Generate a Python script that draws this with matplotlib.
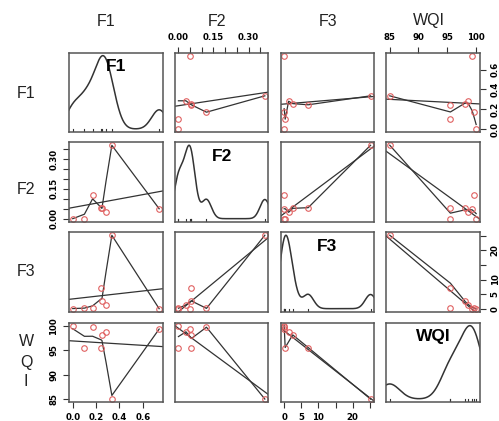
import numpy as np
import matplotlib.pyplot as plt

# samples
names = ["F1", "F2", "F3", "WQI"]
F1 = [0.00, 0.10, 0.17, 0.245, 0.25, 0.285, 0.335, 0.74]
F2 = [0.00, 0.00, 0.12, 0.055, 0.052, 0.032, 0.37, 0.05]
F3 = [0.0, 0.3, 0.1, 7.0, 2.5, 1.3, 25.2, 0.0]
WQI = [100.1, 95.6, 99.8, 95.6, 98.2, 98.7, 85.0, 99.4]
data = {"F1": F1, "F2": F2, "F3": F3, "WQI": WQI}

tick_pos = {
    "F1": [0.0, 0.2, 0.4, 0.6],
    "F2": [0.00, 0.05, 0.10, 0.15, 0.20, 0.25, 0.30, 0.35],
    "F3": [0, 5, 10, 15, 20, 25],
    "WQI": [85, 90, 95, 100],
}
tick_lab = {
    "F1": ["0.0", "0.2", "0.4", "0.6"],
    "F2": ["0.00", "", "", "0.15", "", "", "0.30", ""],
    "F3": ["0", "5", "10", "", "20", ""],
    "WQI": ["85", "90", "95", "100"],
}


def lowess(x, y, f=2 / 3, nsteps=3):
    # port of R's clowess
    o = np.argsort(x, kind="stable")
    x = np.asarray(x, float)[o]
    y = np.asarray(y, float)[o]
    n = len(x)
    ns = max(2, min(n, int(f * n + 1e-7)))
    rng = x[-1] - x[0]
    delta = 0.01 * rng
    rw = np.ones(n)
    ys = np.zeros(n)

    def lowest(xs, nleft, nright, userw):
        h = max(xs - x[nleft], x[nright] - xs)
        h9, h1 = 0.999 * h, 0.001 * h
        w = np.zeros(n)
        a = 0.0
        j = nleft
        while j < n:
            r = abs(x[j] - xs)
            if r <= h9:
                w[j] = 1.0 if r <= h1 else (1 - (r / h) ** 3) ** 3
                if userw:
                    w[j] *= rw[j]
                a += w[j]
            elif x[j] > xs:
                break
            j += 1
        nrt = j - 1
        if a <= 0:
            return None
        sl = slice(nleft, nrt + 1)
        w[sl] /= a
        if h > 0:
            a = np.sum(w[sl] * x[sl])
            b = xs - a
            c = np.sum(w[sl] * (x[sl] - a) ** 2)
            if np.sqrt(c) > 0.001 * rng:
                b /= c
                w[sl] *= b * (x[sl] - a) + 1
        return np.sum(w[sl] * y[sl])

    it = 1
    while it <= nsteps + 1:
        nleft, nright, last, i = 0, ns - 1, -1, 0
        while True:
            if nright < n - 1:
                d1 = x[i] - x[nleft]
                d2 = x[nright + 1] - x[i]
                if d1 > d2:
                    nleft += 1
                    nright += 1
                    continue
            v = lowest(x[i], nleft, nright, it > 1)
            ys[i] = y[i] if v is None else v
            if last < i - 1:
                den = x[i] - x[last]
                for j in range(last + 1, i):
                    al = (x[j] - x[last]) / den
                    ys[j] = al * ys[i] + (1 - al) * ys[last]
            last = i
            cut = x[last] + delta
            i = last + 1
            while i < n:
                if x[i] > cut:
                    break
                if x[i] == x[last]:
                    ys[i] = ys[last]
                    last = i
                i += 1
            i = max(last + 1, i - 1)
            if last >= n - 1:
                break
        res = y - ys
        sc = np.mean(np.abs(res))
        if it > nsteps:
            break
        cmad = 6 * np.median(np.abs(res))
        if cmad < 1e-7 * sc:
            break
        r = np.abs(res)
        rw = np.where(r <= 0.001 * cmad, 1.0,
                      np.where(r <= 0.999 * cmad, (1 - (r / cmad) ** 2) ** 2, 0.0))
        it += 1
    return x, ys


def density(v):
    v = np.asarray(v, float)
    n = len(v)
    sd = v.std(ddof=1)
    q75, q25 = np.percentile(v, [75, 25])
    lo = min(sd, (q75 - q25) / 1.34) or sd
    bw = 0.9 * lo * n ** -0.2
    g = np.linspace(v.min() - 3 * bw, v.max() + 3 * bw, 512)
    d = np.exp(-0.5 * ((g[:, None] - v[None, :]) / bw) ** 2).sum(1)
    return g, d / (n * bw * np.sqrt(2 * np.pi))


def lims(v):
    r = max(v) - min(v)
    return min(v) - 0.04 * r, max(v) + 0.04 * r


W, H = 499, 421
fig = plt.figure(figsize=(W / 100, H / 100), dpi=100)
lefts = [69.3, 175.0, 280.7, 386.3]
tops = [52.7, 142.3, 232.3, 322.7]
pw, ph = 93.3, 79.3
ink = "#333333"

for i, rv in enumerate(names):
    for j, cv in enumerate(names):
        ax = fig.add_axes([lefts[j] / W, 1 - (tops[i] + ph) / H, pw / W, ph / H])
        for s in ax.spines.values():
            s.set_color("#555555")
            s.set_linewidth(1.1)
        ax.set_xlim(lims(data[cv]))
        ax.tick_params(length=4, width=0.8, color=ink, pad=4, labelsize=6.2)
        x = np.array(data[cv])
        if i == j:
            g, d = density(x)
            m = d.max()
            ax.set_ylim(-0.04 * m, 1.04 * m)
            ax.plot(g, d, color=ink, lw=1.1)
            for xv in x:
                ax.plot([xv, xv], [-0.04 * m, 0.0], color=ink, lw=0.8)
            ax.text(0.5, 0.82, cv, transform=ax.transAxes, ha="center", va="center",
                    fontsize=12.5, fontweight="bold", family="Liberation Sans")
        else:
            y = np.array(data[rv])
            ax.set_ylim(lims(y))
            k, b = np.polyfit(x, y, 1)
            xl = np.array(ax.get_xlim())
            ax.plot(xl, k * xl + b, color=ink, lw=0.9)
            lx, ly = lowess(x, y)
            ax.plot(lx, ly, color=ink, lw=0.9)
            ax.plot(x, y, "o", mfc="none", mec="#e06060", ms=4, mew=0.8)

        ax.set_xticks([])
        ax.set_yticks([])
        # alternating outer axes like R's pairs()
        if i == 0 and j in (1, 3):
            ax.xaxis.tick_top()
            ax.set_xticks(tick_pos[cv])
            ax.set_xticklabels(tick_lab[cv], fontweight="bold")
        if i == 3 and j in (0, 2):
            ax.set_xticks(tick_pos[cv])
            ax.set_xticklabels(tick_lab[cv], fontweight="bold")
        if j == 0 and i in (1, 3):
            ax.set_yticks(tick_pos[rv])
            ax.set_yticklabels(tick_lab[rv], fontweight="bold", rotation=90, va="center")
        if j == 3 and i in (0, 2):
            ax.yaxis.tick_right()
            ax.set_yticks(tick_pos[rv])
            ax.set_yticklabels(tick_lab[rv], fontweight="bold", rotation=90, va="center")

# outer variable names
lab_kw = dict(fontsize=11.5, color="#222222", family="Liberation Sans", ha="center", va="center")
for xp, nm in zip([106, 217, 328, 429], names):
    fig.text(xp / W, 1 - 21 / H, nm, **lab_kw)
for yp, nm in zip([93, 190, 272], names[:3]):
    fig.text(26 / W, 1 - yp / H, nm, **lab_kw)
for yp, ch in zip([342, 362, 382], "WQI"):
    fig.text(26 / W, 1 - yp / H, ch, **lab_kw)

fig.savefig("out.png", dpi=100)
